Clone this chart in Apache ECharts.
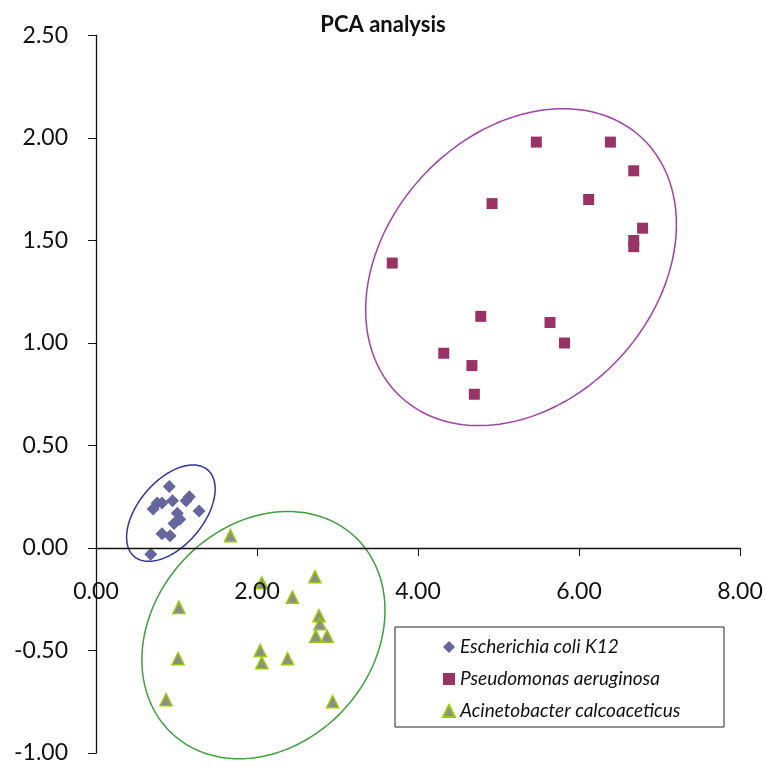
<!DOCTYPE html>
<html>
<head>
<meta charset="utf-8">
<script src="https://cdn.jsdelivr.net/npm/echarts@6/dist/echarts.min.js"></script>
<style>html,body{margin:0;padding:0;background:#fff;}#c{width:766px;height:767px;}</style>
</head>
<body>
<div id="c"></div>
<script>
// Series names
const seriesNames = ['Escherichia coli K12', 'Pseudomonas aeruginosa', 'Acinetobacter calcoaceticus'];

// E. coli K12 points [PC1, PC2]
const ecoli = [
  [0.91, 0.30], [0.76, 0.22], [0.71, 0.19], [0.82, 0.22], [0.95, 0.23],
  [1.16, 0.25], [1.12, 0.23], [1.28, 0.18], [1.01, 0.17], [1.04, 0.14],
  [0.97, 0.12], [0.82, 0.07], [0.92, 0.06], [0.68, -0.03]
];

// Pseudomonas aeruginosa points
const pseudomonas = [
  [5.47, 1.98], [6.39, 1.98], [6.68, 1.84], [6.12, 1.70], [4.92, 1.68],
  [6.79, 1.56], [6.68, 1.50], [6.68, 1.47], [3.68, 1.39], [4.78, 1.13],
  [5.64, 1.10], [5.82, 1.00], [4.32, 0.95], [4.67, 0.89], [4.70, 0.75]
];

// Acinetobacter calcoaceticus points
const acinetobacter = [
  [1.67, 0.06], [2.06, -0.17], [2.72, -0.14], [2.44, -0.24], [1.03, -0.29],
  [2.77, -0.33], [2.78, -0.37], [2.73, -0.43], [2.87, -0.43], [2.04, -0.50],
  [2.06, -0.56], [2.38, -0.54], [1.02, -0.54], [0.87, -0.74], [2.94, -0.75]
];

// Cluster ellipses: [centerX, centerY, halfWidthX, halfHeightY, correlation]
const ellipseParams = [
  [0.93, 0.17, 0.55, 0.235, 0.50],
  [5.28, 1.37, 1.93, 0.773, 0.27],
  [2.08, -0.425, 1.51, 0.603, 0.20]
];
const ellipseColors = ['#333399', '#A040A8', '#3DA03D'];

// Axis ticks
const xTicks = { min: 0, max: 8, interval: 2 };
const yTicks = { min: -1, max: 2.5, interval: 0.5 };

const FONT = 'Lato';
const chart = echarts.init(document.getElementById('c'));

function ellipseRender(params, api) {
  const i = params.dataIndex;
  const p = ellipseParams[i];
  const delta = Math.acos(p[4]);
  const pts = [];
  const N = 180;
  for (let k = 0; k <= N; k++) {
    const t = (k / N) * Math.PI * 2;
    const x = p[0] + p[2] * Math.cos(t);
    const y = p[1] + p[3] * Math.cos(t - delta);
    pts.push(api.coord([x, y]));
  }
  return {
    type: 'polyline',
    shape: { points: pts },
    style: { fill: null, stroke: ellipseColors[i], lineWidth: 1.5 }
  };
}

const option = {
  animation: false,
  backgroundColor: '#fff',
  title: {
    text: 'PCA analysis',
    left: 'center',
    top: 9,
    textStyle: { fontFamily: FONT, fontSize: 22, fontWeight: 'bold', color: '#111' }
  },
  legend: {
    orient: 'vertical',
    left: 395,
    top: 627,
    data: seriesNames,
    itemWidth: 12,
    itemHeight: 12,
    itemGap: 10,
    padding: [9, 14, 5, 47],
    borderColor: '#222',
    borderWidth: 1,
    textStyle: { fontFamily: FONT, fontSize: 19, fontStyle: 'italic', color: '#111', width: 250, lineHeight: 22 }
  },
  grid: { left: 96, right: 26, top: 35.5, bottom: 14, containLabel: false, outerBoundsMode: 'none' },
  xAxis: {
    type: 'value',
    min: xTicks.min, max: xTicks.max, interval: xTicks.interval,
    z: 3,
    axisLine: { onZero: true, lineStyle: { color: '#111', width: 1.3 } },
    axisTick: { show: true, length: 8, lineStyle: { color: '#111' } },
    splitLine: { show: false },
    axisLabel: { margin: -173, fontFamily: FONT, fontSize: 23, color: '#111', formatter: v => v.toFixed(2) }
  },
  yAxis: {
    type: 'value',
    min: yTicks.min, max: yTicks.max, interval: yTicks.interval,
    axisLine: { show: true, onZero: false, lineStyle: { color: '#111', width: 1.3 } },
    axisTick: { show: true, length: 8, lineStyle: { color: '#111' } },
    splitLine: { show: false },
    axisLabel: { margin: 28, fontFamily: FONT, fontSize: 23, color: '#111', formatter: v => v.toFixed(2) }
  },
  series: [
    {
      type: 'custom',
      renderItem: ellipseRender,
      data: ellipseParams.map((p, i) => [p[0], p[1], i]),
      encode: { x: 0, y: 1 },
      silent: true,
      z: 1
    },
    {
      name: seriesNames[0], type: 'scatter', symbol: 'diamond', symbolSize: 13,
      itemStyle: { color: '#66669E', opacity: 1 }, data: ecoli, z: 2
    },
    {
      name: seriesNames[1], type: 'scatter', symbol: 'rect', symbolSize: 11,
      itemStyle: { color: '#993366', opacity: 1 }, data: pseudomonas, z: 2
    },
    {
      name: seriesNames[2], type: 'scatter', symbol: 'triangle', symbolSize: 12,
      itemStyle: { color: '#8C8C8C', borderColor: '#99CC00', borderWidth: 1.5, opacity: 1 }, data: acinetobacter, z: 2
    }
  ]
};
chart.setOption(option);
</script>
</body>
</html>
